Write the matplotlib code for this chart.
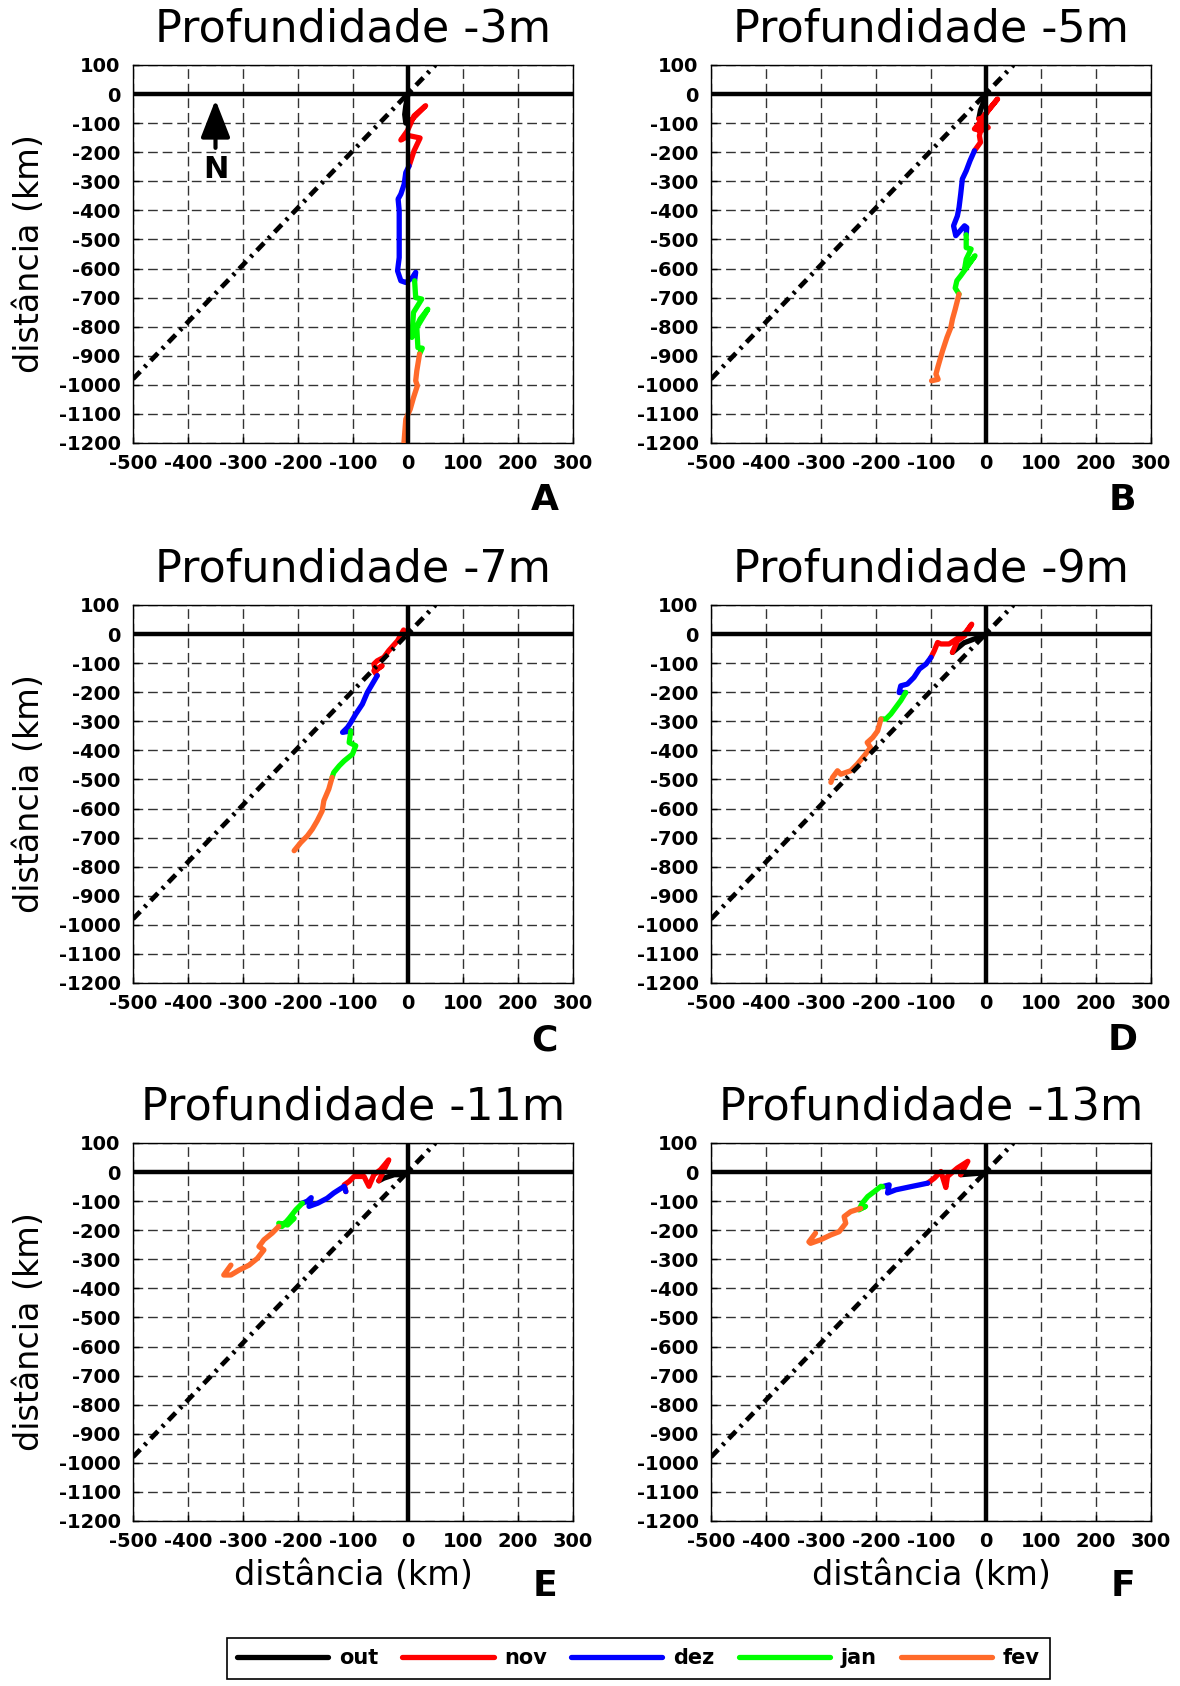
import matplotlib
matplotlib.use("Agg")
import matplotlib.pyplot as plt

plt.rcParams['font.family'] = ['DejaVu Sans']

# ---------------- data ----------------
depth_titles = ["Profundidade -3m", "Profundidade -5m", "Profundidade -7m",
                "Profundidade -9m", "Profundidade -11m", "Profundidade -13m"]
panel_letters = ["A", "B", "C", "D", "E", "F"]
months = ["out", "nov", "dez", "jan", "fev"]
month_colors = ["#000000", "#FF0000", "#0000FF", "#00FF00", "#FF6A2A"]

xtick_vals = [-500, -400, -300, -200, -100, 0, 100, 200, 300]
ytick_vals = [100, 0, -100, -200, -300, -400, -500, -600, -700, -800, -900,
              -1000, -1100, -1200]

# coastline direction (dash-dot line)
coast_x = [-500, 50]
coast_y = [-980, 100]

# north arrow (panel A)
north_x = [-350, -350]
north_y = [-185, -20]
north_label_y = -258

# Panel A (-3 m)
a_out_x = [0, -4, -6, -4, 2]
a_out_y = [0, -40, -70, -100, -97]
a_nov_x = [2, 32, 11, -1, -13, 2, 22, 11, 2]
a_nov_y = [-97, -40, -75, -126, -158, -143, -151, -195, -247]
a_dez_x = [2, -4, -7, -13, -18, -16, -16, -16, -19, -13, -4, 8, 14, 12]
a_dez_y = [-247, -270, -310, -344, -361, -401, -493, -562, -608, -642, -648, -631, -613, -642]
a_jan_x = [12, 14, 25, 10, 7, 22, 36, 16, 18, 26, 21]
a_jan_y = [-642, -700, -705, -751, -837, -774, -740, -803, -872, -874, -894]
a_fev_x = [21, 16, 14, 17, 10, 4, -4, -8]
a_fev_y = [-894, -952, -986, -1003, -1044, -1084, -1118, -1215]

# Panel B (-5 m)
b_out_x = [0, -4, -10, -13]
b_out_y = [0, -25, -55, -85]
b_nov_x = [-13, -9, 21, 4, -4, -21, -9, 4, -6, -12, -10, -21]
b_nov_y = [-85, -86, -17, -57, -80, -120, -126, -115, -97, -143, -166, -195]
b_dez_x = [-21, -29, -36, -43, -46, -49, -52, -59, -55, -47, -39, -35, -36]
b_dez_y = [-195, -229, -264, -292, -344, -390, -419, -453, -487, -470, -453, -459, -484]
b_jan_x = [-36, -36, -27, -36, -39, -20, -33, -46, -53, -56, -49]
b_jan_y = [-484, -528, -533, -568, -602, -556, -591, -625, -642, -667, -688]
b_fev_x = [-49, -56, -61, -64, -71, -79, -87, -91, -87, -99]
b_fev_y = [-688, -740, -774, -803, -837, -883, -935, -963, -981, -986]

# Panel C (-7 m)
c_out_x = [0, -4]
c_out_y = [0, 6]
c_nov_x = [-4, -8, -19, -35, -44, -56, -62, -59, -47, -62, -56]
c_nov_y = [6, 14, -23, -57, -80, -92, -103, -126, -109, -126, -143]
c_dez_x = [-56, -65, -74, -83, -95, -104, -110, -119, -104]
c_dez_y = [-143, -172, -201, -241, -275, -304, -321, -338, -333]
c_jan_x = [-104, -107, -95, -101, -116, -125, -135, -138]
c_jan_y = [-333, -373, -384, -413, -436, -453, -476, -493]
c_fev_x = [-138, -144, -153, -156, -165, -174, -183, -195, -207]
c_fev_y = [-493, -533, -573, -608, -642, -671, -694, -717, -745]

# Panel D (-9 m)
d_out_x = [0, -6, -40, -61]
d_out_y = [0, -6, -30, -63]
d_nov_x = [-61, -52, -39, -26, -37, -49, -67, -82, -88, -94, -100]
d_nov_y = [-63, -23, -6, 34, 6, -11, -34, -34, -29, -57, -80]
d_dez_x = [-100, -109, -121, -131, -143, -155, -158, -146]
d_dez_y = [-80, -103, -120, -149, -172, -178, -201, -201]
d_jan_x = [-146, -155, -164, -173, -182, -191]
d_jan_y = [-201, -229, -252, -275, -292, -292]
d_fev_x = [-191, -197, -206, -216, -210, -219, -234, -246, -264, -270, -279, -282]
d_fev_y = [-292, -333, -356, -373, -390, -413, -447, -470, -482, -470, -493, -510]

# Panel E (-11 m)
e_out_x = [0, -7, -25, -44, -53]
e_out_y = [0, -9, -9, -21, -30]
e_nov_x = [-53, -35, -50, -62, -71, -80, -98, -107, -116, -113]
e_nov_y = [-30, 42, 8, -9, -49, -15, -15, -32, -44, -67]
e_dez_x = [-113, -116, -135, -147, -164, -180, -176, -183, -192]
e_dez_y = [-67, -49, -72, -90, -107, -118, -88, -100, -107]
e_jan_x = [-192, -204, -216, -229, -235, -219, -207, -229, -235]
e_jan_y = [-107, -130, -159, -187, -176, -182, -159, -180, -187]
e_fev_x = [-235, -247, -262, -271, -262, -274, -289, -307, -322, -335, -322]
e_fev_y = [-187, -210, -233, -256, -268, -297, -320, -337, -354, -354, -320]

# Panel F (-13 m)
f_out_x = [0, -6, -46]
f_out_y = [0, -3, -9]
f_nov_x = [-46, -33, -52, -70, -73, -82, -94, -106]
f_nov_y = [-9, 37, 14, -15, -53, 2, -21, -38]
f_dez_x = [-106, -121, -134, -149, -164, -179, -176, -188]
f_dez_y = [-38, -44, -49, -55, -61, -72, -44, -50]
f_jan_x = [-188, -191, -203, -215, -225, -231, -219, -228]
f_jan_y = [-50, -49, -67, -84, -107, -130, -118, -125]
f_fev_x = [-228, -246, -258, -255, -267, -282, -301, -319, -322, -310]
f_fev_y = [-125, -136, -153, -176, -205, -216, -233, -245, -240, -210]

panels = [
    [(a_out_x, a_out_y), (a_nov_x, a_nov_y), (a_dez_x, a_dez_y), (a_jan_x, a_jan_y), (a_fev_x, a_fev_y)],
    [(b_out_x, b_out_y), (b_nov_x, b_nov_y), (b_dez_x, b_dez_y), (b_jan_x, b_jan_y), (b_fev_x, b_fev_y)],
    [(c_out_x, c_out_y), (c_nov_x, c_nov_y), (c_dez_x, c_dez_y), (c_jan_x, c_jan_y), (c_fev_x, c_fev_y)],
    [(d_out_x, d_out_y), (d_nov_x, d_nov_y), (d_dez_x, d_dez_y), (d_jan_x, d_jan_y), (d_fev_x, d_fev_y)],
    [(e_out_x, e_out_y), (e_nov_x, e_nov_y), (e_dez_x, e_dez_y), (e_jan_x, e_jan_y), (e_fev_x, e_fev_y)],
    [(f_out_x, f_out_y), (f_nov_x, f_nov_y), (f_dez_x, f_dez_y), (f_jan_x, f_jan_y), (f_fev_x, f_fev_y)],
]

# ---------------- layout ----------------
W, H = 1180, 1686
fig = plt.figure(figsize=(W / 100, H / 100), dpi=100)

ax_lefts = [133, 711]
ax_tops = [65, 605, 1143]
ax_w, ax_h = 440, 378

legend_handles = []
for i in range(6):
    row, col = divmod(i, 2)
    l = ax_lefts[col]
    t = ax_tops[row]
    ax = fig.add_axes([l / W, 1 - (t + ax_h) / H, ax_w / W, ax_h / H])
    ax.set_xlim(-500, 300)
    ax.set_ylim(-1200, 100)
    ax.set_xticks(xtick_vals, labels=[str(v) for v in xtick_vals],
                  fontsize=14, fontweight='bold')
    ax.set_yticks(ytick_vals, labels=[str(v) for v in ytick_vals],
                  fontsize=14, fontweight='bold')
    ax.tick_params(axis='x', direction='in', length=4, width=1, pad=8)
    ax.tick_params(axis='y', direction='in', length=4, width=1, pad=9)
    ax.grid(True, color='#333333', lw=1.0, linestyle=(0, (7, 3.5)))
    for sp in ax.spines.values():
        sp.set_linewidth(1.0)
        sp.set_color('k')

    for m, (xs, ys) in enumerate(panels[i]):
        ln, = ax.plot(xs, ys, color=month_colors[m], lw=3.8, label=months[m],
                      solid_capstyle='round', solid_joinstyle='round', zorder=3)
        if i == 0:
            legend_handles.append(ln)

    ax.plot(coast_x, coast_y, color='k', lw=3.4,
            linestyle=(0, (2.2, 1.3, 0.6, 1.3)), zorder=4)
    ax.axhline(0, color='k', lw=3.2, zorder=5)
    ax.axvline(0, color='k', lw=3.2, zorder=5)

    ax.set_title(depth_titles[i], fontsize=32, pad=17)

    ly = -0.151 if row < 2 else -0.172
    ax.text(0.936, ly, panel_letters[i], transform=ax.transAxes,
            ha='center', va='center', fontsize=26, fontweight='bold')

    if col == 0:
        ax.set_ylabel("distância (km)", fontsize=24)
        ax.yaxis.set_label_coords(-0.198, 0.5)
    if row == 2:
        ax.set_xlabel("distância (km)", fontsize=24)
        ax.xaxis.set_label_coords(0.5, -0.10)

    if i == 0:
        ax.annotate('', xy=(north_x[1], north_y[1]), xytext=(north_x[0], north_y[0]),
                    arrowprops=dict(arrowstyle='-|>,head_length=1.15,head_width=0.45',
                                    lw=3, color='k', mutation_scale=20,
                                    shrinkA=0, shrinkB=0), zorder=6)
        ax.text(north_x[0], north_label_y, 'N', ha='center', va='center',
                fontsize=22, fontweight='bold')

leg = fig.legend(legend_handles, months, loc='upper center',
                 bbox_to_anchor=(638.5 / W, 1 - 1638 / H), ncol=5,
                 frameon=True, fancybox=False, edgecolor='k', framealpha=1,
                 prop=dict(weight='bold', size=15), handlelength=4.37,
                 handletextpad=0.53, columnspacing=1.15, borderpad=0.5,
                 borderaxespad=0)
leg.get_frame().set_linewidth(1.2)

fig.savefig("out.png", dpi=100)
